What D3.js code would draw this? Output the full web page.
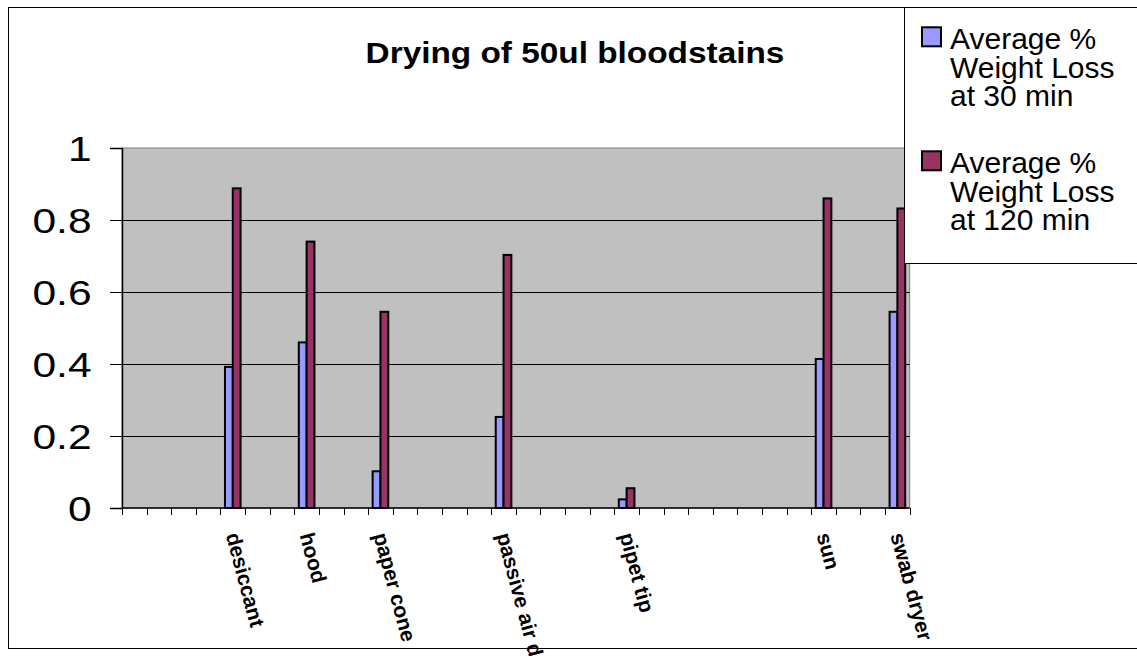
<!DOCTYPE html>
<html>
<head>
<meta charset="utf-8">
<script src="https://cdn.jsdelivr.net/npm/d3@7"></script>
<style>
  html, body { margin: 0; padding: 0; background: #ffffff; }
  svg { display: block; }
  text { font-family: Arial, "Liberation Sans", sans-serif; }
</style>
</head>
<body>
<script>
// ---- data ----
const categories = ["", "", "", "", "desiccant", "", "", "hood", "", "", "paper cone", "", "", "", "", "passive air dryer",
  "", "", "", "", "pipet tip", "", "", "", "", "", "", "", "sun", "", "", "swab dryer"];
const loss30 = [null, null, null, null, 0.392, null, null, 0.46, null, null, 0.102, null, null, null, null, 0.253,
  null, null, null, null, 0.024, null, null, null, null, null, null, null, 0.414, null, null, 0.545];
const loss120 = [null, null, null, null, 0.888, null, null, 0.74, null, null, 0.545, null, null, null, null, 0.703,
  null, null, null, null, 0.055, null, null, null, null, null, null, null, 0.86, null, null, 0.832];
const seriesNames = ["Average % Weight Loss at 30 min", "Average % Weight Loss at 120 min"];
const legendLines = [["Average %", "Weight Loss", "at 30 min"], ["Average %", "Weight Loss", "at 120 min"]];
const seriesColors = ["#9999FF", "#993366"];
const yTicks = [0, 0.2, 0.4, 0.6, 0.8, 1];
const title = "Drying of 50ul bloodstains";

// ---- layout ----
const W = 1137, H = 656;
const plot = { left: 122, right: 909.7, top: 148, bottom: 508 };

const svg = d3.select("body").append("svg").attr("width", W).attr("height", H);

// outer chart border
svg.append("rect").attr("x", 8.5).attr("y", 7.5).attr("width", 1140).attr("height", 641)
  .attr("fill", "#fff").attr("stroke", "#000").attr("stroke-width", 1);

const idx = categories.map((d, i) => i);
const x0 = d3.scaleBand().domain(idx).range([plot.left, plot.right]).padding(0);
const x1 = d3.scaleBand().domain([0, 1]).range([0, x0.bandwidth()]).paddingInner(0).paddingOuter(0.575);
const y = d3.scaleLinear().domain([0, 1]).range([plot.bottom, plot.top]);

// plot area
svg.append("rect").attr("x", plot.left).attr("y", plot.top)
  .attr("width", plot.right - plot.left).attr("height", plot.bottom - plot.top)
  .attr("fill", "#C0C0C0").attr("stroke", "#808080").attr("stroke-width", 1);

// gridlines
svg.append("g").selectAll("line").data(yTicks.filter(t => t > 0 && t < 1)).join("line")
  .attr("x1", plot.left).attr("x2", plot.right)
  .attr("y1", d => Math.round(y(d)) + 0.5).attr("y2", d => Math.round(y(d)) + 0.5)
  .attr("stroke", "#000").attr("stroke-width", 1);

// bars
const seriesData = [loss30, loss120];
seriesData.forEach((vals, s) => {
  svg.append("g").selectAll("rect").data(idx.filter(i => vals[i] != null)).join("rect")
    .attr("x", i => x0(i) + x1(s))
    .attr("y", i => y(vals[i]))
    .attr("width", x1.bandwidth())
    .attr("height", i => y(0) - y(vals[i]))
    .attr("fill", seriesColors[s])
    .attr("stroke", "#000").attr("stroke-width", 2);
});

// y axis
const yAxis = d3.axisLeft(y).tickValues(yTicks).tickSize(12).tickFormat("");
const yg = svg.append("g").attr("transform", `translate(${plot.left},0)`).call(yAxis);
yg.select(".domain").attr("stroke", "#000").attr("stroke-width", 1.5);
yg.selectAll(".tick line").attr("stroke", "#000");

// y labels (slightly stretched horizontally like the source)
svg.append("g").selectAll("g").data(yTicks).join("g")
  .attr("transform", d => `translate(91.5,${y(d) + 13}) scale(1.18,1)`)
  .append("text").attr("text-anchor", "end").attr("font-size", 36).attr("fill", "#000")
  .text(d => d3.format("")(d));

// x axis
const xTickPos = idx.map(i => x0(i)).concat([plot.right]);
svg.append("line").attr("x1", plot.left).attr("x2", plot.right)
  .attr("y1", plot.bottom).attr("y2", plot.bottom).attr("stroke", "#000").attr("stroke-width", 1.5);
svg.append("g").selectAll("line").data(xTickPos).join("line")
  .attr("x1", d => Math.round(d) + 0.5).attr("x2", d => Math.round(d) + 0.5)
  .attr("y1", plot.bottom).attr("y2", plot.bottom + 7)
  .attr("stroke", "#000").attr("stroke-width", 1);

// x labels (rotated)
svg.append("g").selectAll("text").data(idx.filter(i => categories[i] !== "")).join("text")
  .attr("transform", i => `translate(${x0(i) + x0.bandwidth() / 2},533) rotate(75)`)
  .attr("dy", "0.35em")
  .attr("text-anchor", "start").attr("font-size", 21).attr("font-weight", "bold").attr("fill", "#000")
  .text(i => categories[i]);

// title
svg.append("g").attr("transform", "translate(575,63) scale(1.15,1)")
  .append("text").attr("text-anchor", "middle").attr("font-size", 29).attr("font-weight", "bold")
  .attr("fill", "#000").text(title);

// legend
const lg = svg.append("g");
lg.append("rect").attr("x", 904.5).attr("y", 7.5).attr("width", 260).attr("height", 256)
  .attr("fill", "#fff").attr("stroke", "#000").attr("stroke-width", 1);
seriesNames.forEach((name, s) => {
  const base = 49.3 + s * 124;
  lg.append("rect").attr("x", 922).attr("y", base - 22).attr("width", 19).attr("height", 19)
    .attr("fill", seriesColors[s]).attr("stroke", "#000").attr("stroke-width", 2);
  legendLines[s].forEach((ln, k) => {
    lg.append("text").attr("x", 950).attr("y", base + k * 28.3)
      .attr("font-size", 30).attr("fill", "#000").text(ln);
  });
});
</script>
</body>
</html>
